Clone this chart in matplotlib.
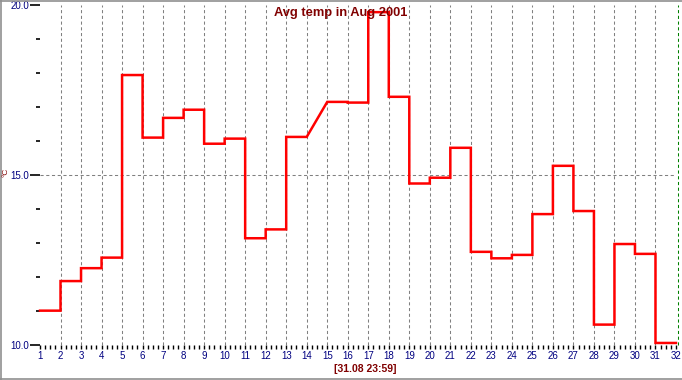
import numpy as np
from matplotlib import pyplot as plt
from matplotlib.lines import Line2D

# daily average temperature, August 2001 (day 14 has no reading)
days = list(range(1, 32))
temps = [11.01, 11.88, 12.26, 12.57, 17.94, 16.10, 16.68, 16.92, 15.92, 16.07,
         13.14, 13.40, 16.12, None, 17.15, 17.13, 19.79, 17.30, 14.75, 14.92,
         15.80, 12.74, 12.55, 12.65, 13.85, 15.27, 13.94, 10.60, 12.97, 12.68,
         10.06]
y_major = [10.0, 15.0, 20.0]
x_labels = [str(d) for d in range(1, 33)]
title = "Avg temp in Aug 2001"
stamp = "[31.08 23:59]"

navy = "#000080"
dark_red = "#800000"

W, H = 682, 380
fig = plt.figure(figsize=(W / 100, H / 100), dpi=100)
fig.patch.set_facecolor("white")

# plot area: day 1 at x=40, day 32 at x=676; 20.0 at y=5, 10.0 at y=345
ax = fig.add_axes([40 / W, (H - 345) / H, 636 / W, 340 / H])
ax.set_xlim(1, 32)
ax.set_ylim(10, 20)
for s in ax.spines.values():
    s.set_visible(False)

# build the step path: each value holds for its day, gaps are joined diagonally
px, py = [], []
for d, t in zip(days, temps):
    if t is None:
        continue
    px += [d, d + 1]
    py += [t, t]

# grid
for d in range(2, 32):
    ax.axvline(d, color="#808080", lw=0.75, ls=(0, (3, 2.5)), zorder=1)
ax.axhline(15, color="#808080", lw=0.75, ls=(0, (3, 2.5)), zorder=1)
ax.axvline(32.08, color="#008000", lw=0.75, ls=(0, (3, 2.5)), clip_on=False, zorder=1)

ax.plot(px, py, color="#ff0000", lw=1.8, solid_joinstyle="miter", clip_on=False, zorder=3)

# ticks
ax.set_xticks(range(1, 33))
ax.set_xticklabels(x_labels)
ax.set_xticks(np.arange(1, 32.01, 0.25), minor=True)
ax.tick_params(axis="x", which="both", direction="out", length=3, width=1.0,
               color="black", labelsize=7, labelcolor=navy, pad=1)
ax.set_yticks(y_major)
ax.set_yticklabels([f"{v:.1f}" for v in y_major])
ax.set_yticks([v for v in range(11, 20) if v != 15], minor=True)
ax.tick_params(axis="y", which="major", direction="out", length=7.2, width=1.2,
               color="black", labelsize=7, labelcolor=navy, pad=0.5)
ax.tick_params(axis="y", which="minor", direction="out", length=3, width=1.2,
               color="black", pad=0.5)
for lab in ax.get_xticklabels() + ax.get_yticklabels():
    lab.set_family("Liberation Sans")

# texts
fig.text(340.5 / W, 1 - 13 / H, title, ha="center", va="center", color=dark_red,
         fontsize=9.3, fontweight="bold", family="Liberation Sans")
fig.text(365 / W, 1 - 369 / H, stamp, ha="center", va="center", color=dark_red,
         fontsize=7.5, fontweight="bold", family="Liberation Sans")
fig.text(6.5 / W, 1 - 172 / H, "°C", ha="center", va="center", color=dark_red,
         fontsize=6, rotation=90, family="Liberation Sans")

# outer frame
fig.add_artist(Line2D([0.5 / W, 0.5 / W], [0, 1], color="#909090", lw=1.2))
fig.add_artist(Line2D([0, 1], [1 - 0.5 / H, 1 - 0.5 / H], color="#909090", lw=1.2))
fig.add_artist(Line2D([0, 1], [1.5 / H, 1.5 / H], color="#909090", lw=1.2))

fig.savefig("out.png", dpi=100, facecolor="white")
